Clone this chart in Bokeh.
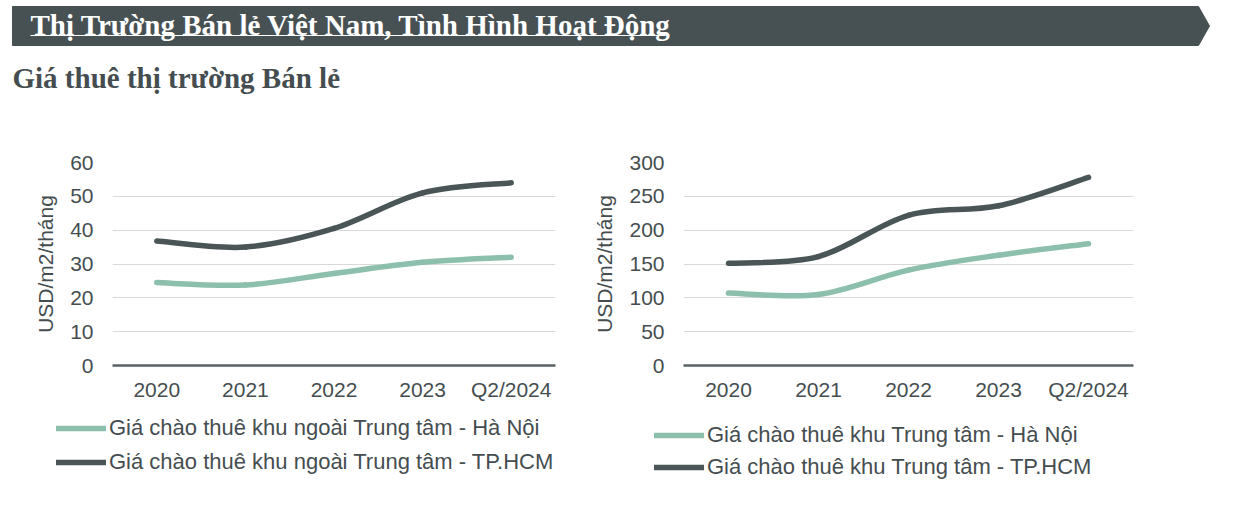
from bokeh.plotting import figure
from bokeh.models import (Range1d, FixedTicker, SingleIntervalTicker, Legend, LegendItem,
                          ColumnDataSource)
from bokeh.layouts import column, row
from bokeh.embed import file_html
from bokeh.resources import INLINE
from bokeh.core.properties import value

# ---------------- data ----------------
categories = ["2020", "2021", "2022", "2023", "Q2/2024"]
left_hn = [24.5, 23.8, 27.2, 30.5, 32.0]
left_hcm = [36.8, 35.0, 40.5, 51.0, 54.0]
right_hn = [107, 105, 141, 163, 180]
right_hcm = [151, 161, 222, 236, 278]
left_labels = ["Giá chào thuê khu ngoài Trung tâm - Hà Nội",
               "Giá chào thuê khu ngoài Trung tâm - TP.HCM"]
right_labels = ["Giá chào thuê khu Trung tâm - Hà Nội",
                "Giá chào thuê khu Trung tâm - TP.HCM"]
title_text = "Thị Trường Bán lẻ Việt Nam, Tình Hình Hoạt Động"
subtitle_text = "Giá thuê thị trường Bán lẻ"
y_title = "USD/m2/tháng"

# ---------------- styles ----------------
LIGHT = "#8dbfad"
DARK = "#4a5558"
TEXT = "#454d50"
BANNER = "#475154"
AXIS = "#596366"
SANS = "Liberation Sans"
SERIF = "Liberation Serif"
LW = 5.5
CHART_H = 304


def smooth_source(vals, t=1.0 / 6.0):
    """Cubic Bezier segments through the data points (Excel-like smoothing)."""
    n = len(vals)
    P = [(float(i), float(v)) for i, v in enumerate(vals)]
    d = dict(x0=[], y0=[], x1=[], y1=[], cx0=[], cy0=[], cx1=[], cy1=[])
    for i in range(n - 1):
        p0 = P[max(i - 1, 0)]
        p1 = P[i]
        p2 = P[i + 1]
        p3 = P[min(i + 2, n - 1)]
        d["x0"].append(p1[0]); d["y0"].append(p1[1])
        d["x1"].append(p2[0]); d["y1"].append(p2[1])
        d["cx0"].append(p1[0] + (p2[0] - p0[0]) * t)
        d["cy0"].append(p1[1] + (p2[1] - p0[1]) * t)
        d["cx1"].append(p2[0] - (p3[0] - p1[0]) * t)
        d["cy1"].append(p2[1] - (p3[1] - p1[1]) * t)
    return ColumnDataSource(d)


def make_chart(width, ymax, interval, hn, hcm, borders):
    left, right, top, bottom = borders
    p = figure(width=width, height=CHART_H, x_range=Range1d(-0.5, len(categories) - 0.5),
               y_range=Range1d(0, ymax), output_backend="svg", toolbar_location=None,
               min_border_left=left, min_border_right=right, min_border_top=top,
               min_border_bottom=bottom)
    p.outline_line_color = None
    p.background_fill_color = "white"
    p.border_fill_color = "white"

    p.xgrid.visible = False
    p.ygrid.grid_line_color = "#d9d9d9"
    p.ygrid.grid_line_width = 1

    yax = p.yaxis[0]
    yax.ticker = SingleIntervalTicker(interval=interval, num_minor_ticks=0)
    yax.axis_line_color = None
    yax.major_tick_line_color = None
    yax.minor_tick_line_color = None
    yax.major_tick_out = 0
    yax.major_tick_in = 0
    yax.major_label_standoff = 19
    yax.major_label_text_font = SANS
    yax.major_label_text_font_size = "21px"
    yax.major_label_text_color = TEXT
    yax.axis_label = y_title
    yax.axis_label_text_font = SANS
    yax.axis_label_text_font_size = "21px"
    yax.axis_label_text_font_style = "normal"
    yax.axis_label_text_color = TEXT
    yax.axis_label_standoff = 10

    xax = p.xaxis[0]
    xax.ticker = FixedTicker(ticks=list(range(len(categories))))
    xax.major_label_overrides = {i: c for i, c in enumerate(categories)}
    xax.axis_line_color = AXIS
    xax.axis_line_width = 2.5
    xax.major_tick_line_color = None
    xax.minor_tick_line_color = None
    xax.major_tick_out = 0
    xax.major_tick_in = 0
    xax.major_label_standoff = 12
    xax.major_label_text_font = SANS
    xax.major_label_text_font_size = "21px"
    xax.major_label_text_color = TEXT

    kw = dict(x0="x0", y0="y0", x1="x1", y1="y1", cx0="cx0", cy0="cy0",
              cx1="cx1", cy1="cy1", line_width=LW, line_cap="round")
    p.bezier(source=smooth_source(hn), line_color=LIGHT, **kw)
    p.bezier(source=smooth_source(hcm), line_color=DARK, **kw)
    return p


# ---------------- legend strip (keys for both charts) ----------------
LEG_H = 86
legfig = figure(width=1230, height=LEG_H, x_range=Range1d(0, 1), y_range=Range1d(0, 1),
                output_backend="svg", toolbar_location=None, min_border=0)
legfig.axis.visible = False
legfig.grid.visible = False
legfig.outline_line_color = None


def add_legend(labels, series, loc, row_h, gap):
    xs = list(range(len(categories)))
    keys = []
    for vals, col in zip(series, (LIGHT, DARK)):
        r = legfig.line(x=xs, y=vals, line_color=col, line_width=LW, line_cap="round",
                        visible=False)
        keys.append(r)
    legend = Legend(items=[LegendItem(label=lbl, renderers=[r]) for lbl, r in zip(labels, keys)],
                    location=loc, orientation="vertical",
                    glyph_width=50, glyph_height=row_h, label_height=row_h,
                    spacing=gap, padding=0, margin=0, label_standoff=3,
                    border_line_color=None, background_fill_alpha=0,
                    label_text_font=SANS, label_text_font_size="22px",
                    label_text_color=TEXT)
    legfig.add_layout(legend)


add_legend(left_labels, (left_hn, left_hcm), (56, 25), 26, 8)
add_legend(right_labels, (right_hn, right_hcm), (654, 20), 26, 6)

# ---------------- header ----------------
hdr = figure(width=1230, height=110, x_range=Range1d(0, 1230), y_range=Range1d(110, 0),
             output_backend="svg", toolbar_location=None, min_border=0)
hdr.axis.visible = False
hdr.grid.visible = False
hdr.outline_line_color = None
hdr.patch(x=[12, 1198, 1209, 1198, 12], y=[6, 6, 25.5, 45, 45], fill_color=BANNER,
          line_color=BANNER)
hdr.text(x=[30], y=[24], text=[title_text], text_font=value(SERIF), text_font_style="bold",
         text_font_size="29px", text_color="white", text_baseline="alphabetic")
hdr.segment(x0=[30], y0=[35], x1=[665], y1=[35], line_color="white", line_width=1)
hdr.text(x=[12], y=[77], text=[subtitle_text], text_font=value(SERIF), text_font_style="bold",
         text_font_size="29px", text_color=TEXT, text_baseline="alphabetic")

left = make_chart(590, 60, 10, left_hn, left_hcm, (112, 35, 49, 49))
right = make_chart(640, 300, 50, right_hn, right_hcm, (91, 97, 52, 45))

layout = column(hdr, row(left, right, spacing=0), legfig, spacing=0)
open("out.html", "w").write(file_html(layout, INLINE))
